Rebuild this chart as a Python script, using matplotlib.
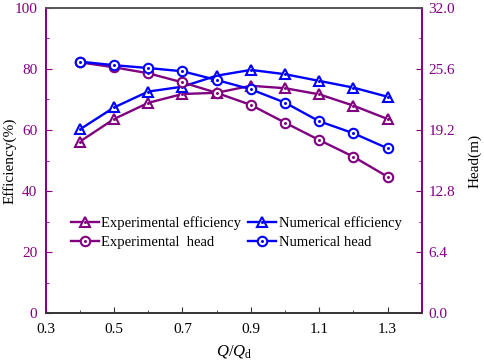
import matplotlib
matplotlib.use("Agg")
import matplotlib.pyplot as plt
from matplotlib.lines import Line2D
from matplotlib.legend_handler import HandlerTuple
from matplotlib.ticker import MultipleLocator, FormatStrFormatter

plt.rcParams['font.family'] = ['Liberation Serif', 'DejaVu Serif']
plt.rcParams['mathtext.fontset'] = 'custom'
plt.rcParams['mathtext.it'] = 'Liberation Serif:italic'
plt.rcParams['mathtext.rm'] = 'Liberation Serif'

q = [0.4, 0.5, 0.6, 0.7, 0.8, 0.9, 1.0, 1.1, 1.2, 1.3]
exp_eff = [56.2, 63.6, 68.9, 71.8, 72.2, 74.5, 73.7, 71.7, 68.0, 63.6]
num_eff = [60.2, 67.4, 72.6, 74.2, 77.8, 79.7, 78.3, 76.1, 73.9, 70.9]
exp_head = [26.3, 25.78, 25.15, 24.2, 23.1, 21.83, 19.97, 18.15, 16.4, 14.3]
num_head = [26.37, 26.0, 25.7, 25.36, 24.45, 23.47, 22.07, 20.12, 18.86, 17.28]

PURPLE = '#800080'
BLUE = '#0000FF'

fig = plt.figure(figsize=(4.84, 3.63), dpi=100)
ax = fig.add_axes([0.0944, 0.1377, 0.8713 - 0.0944, 0.978 - 0.1377])
ax2 = ax.twinx()

ms = 6.8
lw = 1.7

def draw(a, x, y, color, marker, z):
    a.plot(x, y, color=color, lw=lw, marker=marker, ms=ms, mfc='white', mec=color,
           mew=1.5, zorder=z)
    a.plot(x, y, ls='none', marker='.', ms=2.3, color=color, zorder=z + 0.1)

draw(ax, q, exp_eff, PURPLE, '^', 3)
draw(ax, q, num_eff, BLUE, '^', 4)
draw(ax2, q, exp_head, PURPLE, 'o', 3)
draw(ax2, q, num_head, BLUE, 'o', 4)

ax.set_xlim(0.3, 1.4)
ax.set_ylim(0, 100)
ax2.set_ylim(0, 32)
ax.set_xticks([0.3, 0.5, 0.7, 0.9, 1.1, 1.3])
ax.xaxis.set_minor_locator(MultipleLocator(0.1))
ax.yaxis.set_major_locator(MultipleLocator(20))
ax.yaxis.set_minor_locator(MultipleLocator(10))
ax2.yaxis.set_major_locator(MultipleLocator(6.4))
ax2.yaxis.set_minor_locator(MultipleLocator(3.2))
ax2.yaxis.set_major_formatter(FormatStrFormatter('%.1f'))
ax.xaxis.set_major_formatter(FormatStrFormatter('%.1f'))

for a in (ax, ax2):
    a.tick_params(which='both', direction='in', labelsize=11)
    a.tick_params(which='major', length=4)
    a.tick_params(which='minor', length=2.5)
ax.tick_params(axis='x', which='both', top=False, colors='#333333', labelcolor='black', pad=7)
ax.tick_params(axis='y', which='both', colors=PURPLE, labelcolor=PURPLE, right=False, pad=6)
ax2.tick_params(axis='y', which='both', colors=PURPLE, labelcolor=PURPLE, pad=5)

for a in (ax, ax2):
    a.spines['left'].set_color(PURPLE)
    a.spines['right'].set_color(PURPLE)
    a.spines['top'].set_color('#555555')
    a.spines['bottom'].set_color('#333333')
    for s in a.spines.values():
        s.set_linewidth(1.2)

ax.set_ylabel('Efficiency(%)', fontsize=11, va='center')
ax.yaxis.set_label_coords(-0.095, 0.5)
ax2.set_ylabel('Head(m)', fontsize=11, va='center')
ax2.yaxis.set_label_coords(1.142, 0.5)
ax.set_xlabel(r'$\mathit{Q}/\mathit{Q}_{\mathrm{d}}$', fontsize=12, va='center')
ax.xaxis.set_label_coords(0.5, -0.125)

def handle(color, marker):
    l1 = Line2D([], [], color=color, lw=lw, marker=marker, ms=ms, mfc='white', mec=color, mew=1.5)
    l2 = Line2D([], [], ls='none', marker='.', ms=2.3, color=color)
    return (l1, l2)

handles = [handle(PURPLE, '^'), handle(PURPLE, 'o'), handle(BLUE, '^'), handle(BLUE, 'o')]
labels = ['Experimental efficiency', 'Experimental  head', 'Numerical efficiency', 'Numerical head']
fig.legend(handles, labels, ncol=2, loc='center', bbox_to_anchor=(0.488, 0.36),
           frameon=False, fontsize=10.5, handlelength=1.9, handletextpad=0.2,
           columnspacing=0.45, labelspacing=0.4,
           handler_map={tuple: HandlerTuple(ndivide=1)})

fig.savefig('out.png', dpi=100)
